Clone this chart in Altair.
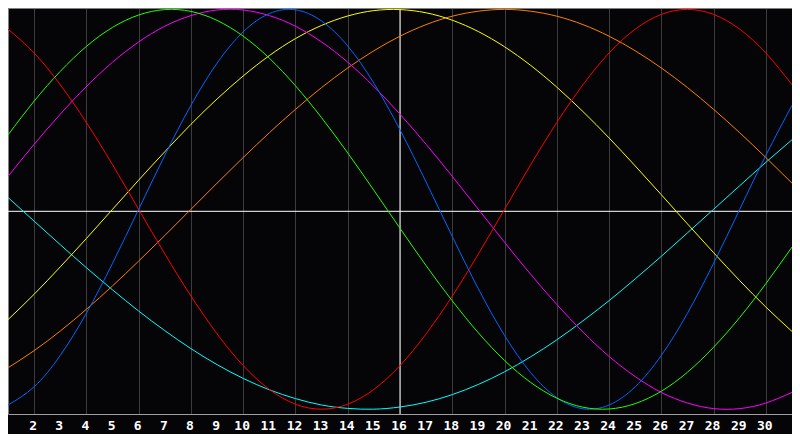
import altair as alt
import pandas as pd

days = list(range(1, 32))
tick_days = list(range(2, 31))

cyan = [0.059, -0.059, -0.177, -0.292, -0.403, -0.509, -0.607, -0.697, -0.777, -0.846,
        -0.903, -0.947, -0.979, -0.996, -1.000, -0.989, -0.965, -0.927, -0.876, -0.813,
        -0.738, -0.653, -0.558, -0.457, -0.348, -0.235, -0.118, 0.0, 0.118, 0.235, 0.348]
orange = [-0.793, -0.707, -0.609, -0.5, -0.383, -0.259, -0.131, 0.0, 0.131, 0.259,
          0.383, 0.5, 0.609, 0.707, 0.793, 0.866, 0.924, 0.966, 0.991, 1.0,
          0.991, 0.966, 0.924, 0.866, 0.793, 0.707, 0.609, 0.5, 0.383, 0.259, 0.131]
yellow = [-0.552, -0.425, -0.288, -0.146, 0.0, 0.146, 0.288, 0.425, 0.552, 0.667,
          0.769, 0.854, 0.920, 0.967, 0.994, 0.999, 0.983, 0.946, 0.889, 0.813,
          0.720, 0.611, 0.489, 0.357, 0.217, 0.073, -0.073, -0.217, -0.357, -0.489, -0.611]
magenta = [0.165, 0.325, 0.476, 0.614, 0.736, 0.837, 0.916, 0.969, 0.997, 0.997,
           0.969, 0.916, 0.837, 0.736, 0.614, 0.476, 0.325, 0.165, 0.0, -0.165,
           -0.325, -0.476, -0.614, -0.736, -0.837, -0.916, -0.969, -0.997, -0.997, -0.969, -0.916]
red = [0.901, 0.782, 0.623, 0.434, 0.223, 0.0, -0.223, -0.434, -0.623, -0.782,
       -0.901, -0.975, -1.0, -0.975, -0.901, -0.782, -0.623, -0.434, -0.223, 0.0,
       0.223, 0.434, 0.623, 0.782, 0.901, 0.975, 1.0, 0.975, 0.901, 0.782, 0.623]
blue = [-0.979, -0.888, -0.731, -0.520, -0.270, 0.0, 0.270, 0.520, 0.731, 0.888,
        0.979, 0.998, 0.942, 0.817, 0.631, 0.398, 0.136, -0.136, -0.398, -0.631,
        -0.817, -0.942, -0.998, -0.979, -0.888, -0.731, -0.520, -0.270, 0.0, 0.270, 0.520]
green = [0.372, 0.541, 0.690, 0.815, 0.910, 0.972, 0.999, 0.990, 0.945, 0.866,
         0.756, 0.618, 0.458, 0.282, 0.095, -0.095, -0.282, -0.458, -0.618, -0.756,
         -0.866, -0.945, -0.990, -0.999, -0.972, -0.910, -0.815, -0.690, -0.541, -0.372, -0.189]

series_names = ["cyan", "orange", "yellow", "magenta", "red", "blue", "green"]
series_values = [cyan, orange, yellow, magenta, red, blue, green]
series_colors = ["#00ffff", "#ff8000", "#ffff00", "#ff00ff", "#ff0000", "#0066ff", "#22ff00"]

rows = []
for order, (name, vals) in enumerate(zip(series_names, series_values)):
    for d, v in zip(days, vals):
        rows.append({"day": d, "value": v, "series": name, "order": order})
df = pd.DataFrame(rows)

W, H = 784, 406
xscale = alt.Scale(domain=[1, 31], nice=False, zero=False)
yscale = alt.Scale(domain=[-1.024, 1.007], nice=False, zero=False)

base_x = alt.X("day:Q", scale=xscale,
               axis=alt.Axis(values=tick_days, title=None, ticks=False, grid=True,
                             gridColor="#3c3c3c", gridWidth=1, domainColor="#a0a0a0",
                             labels=False))
base_y = alt.Y("value:Q", scale=yscale,
               axis=alt.Axis(title=None, labels=False, ticks=False, grid=False,
                             domainColor="#808080"))

lines = alt.Chart(df).mark_line(strokeWidth=1, interpolate="natural").encode(
    x=base_x,
    y=base_y,
    color=alt.Color("series:N", scale=alt.Scale(domain=series_names, range=series_colors), legend=None),
    detail="series:N",
    order="day:Q",
)

labels = alt.Chart(pd.DataFrame({"day": tick_days, "label": [str(d) for d in tick_days]})).mark_text(
    color="#ffffff", font="DejaVu Sans Mono", fontWeight="bold", fontSize=13,
    baseline="top", align="center", dx=-1
).encode(
    x=alt.X("day:Q", scale=xscale),
    y=alt.value(H + 6),
    text="label:N",
)

vline = alt.Chart(pd.DataFrame({"day": [16]})).mark_rule(color="#ffffff", strokeWidth=1).encode(
    x=alt.X("day:Q", scale=xscale)
)
hline = alt.Chart(pd.DataFrame({"value": [-0.01]})).mark_rule(color="#ffffff", strokeWidth=1).encode(
    y=alt.Y("value:Q", scale=yscale)
)
topline = alt.Chart(pd.DataFrame({"a": [0]})).mark_rule(color="#808080", strokeWidth=1).encode(
    x=alt.value(0), x2=alt.value(W), y=alt.value(0.5)
)

chart = alt.layer(vline, hline, lines, topline, labels).properties(
    width=W, height=H,
    autosize=alt.AutoSizeParams(type="none"),
    padding={"left": 0, "top": 0, "right": 0, "bottom": 20},
    background="#050508",
).configure_view(strokeWidth=0)

chart.save("out.html", embed_options={"renderer": "svg", "actions": False})
